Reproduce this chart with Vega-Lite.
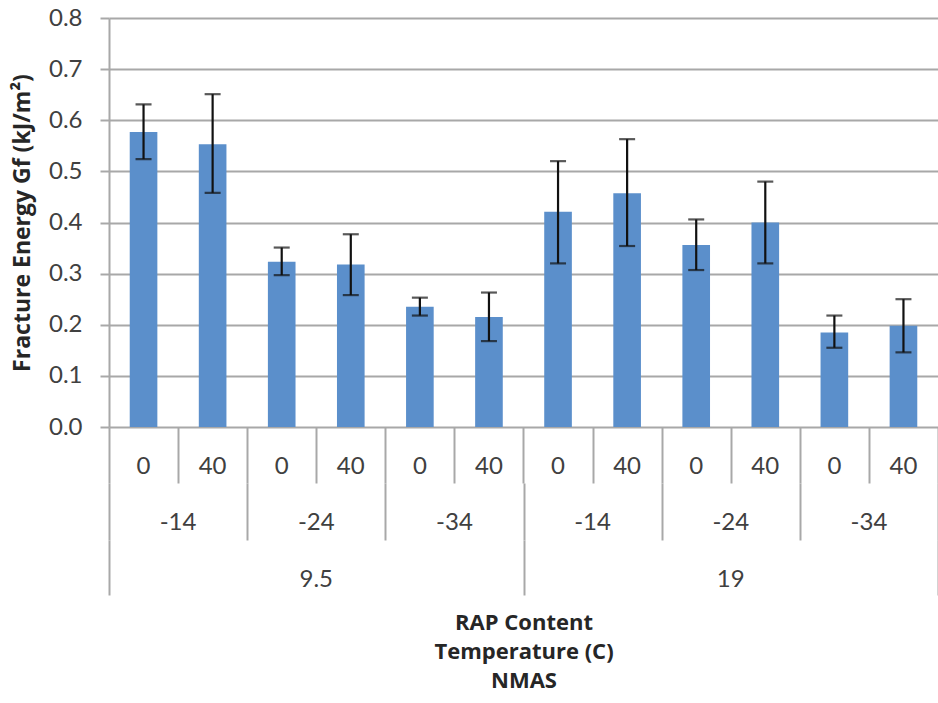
{
  "$schema": "https://vega.github.io/schema/vega-lite/v6.json",
  "background": "white",
  "padding": {"left": 11, "top": 6, "right": 0, "bottom": 8},
  "bounds": "flush",
  "spacing": 0,
  "config": {
    "view": {"stroke": null},
    "font": "Lato",
    "concat": {"spacing": 0}
  },
  "datasets": {
    "bars": [
      {"id": "9.5|-14|0", "nmas": "9.5", "temp": "-14", "rap": "0", "value": 0.577, "lo": 0.524, "hi": 0.631},
      {"id": "9.5|-14|40", "nmas": "9.5", "temp": "-14", "rap": "40", "value": 0.553, "lo": 0.458, "hi": 0.651},
      {"id": "9.5|-24|0", "nmas": "9.5", "temp": "-24", "rap": "0", "value": 0.323, "lo": 0.297, "hi": 0.351},
      {"id": "9.5|-24|40", "nmas": "9.5", "temp": "-24", "rap": "40", "value": 0.318, "lo": 0.258, "hi": 0.377},
      {"id": "9.5|-34|0", "nmas": "9.5", "temp": "-34", "rap": "0", "value": 0.235, "lo": 0.218, "hi": 0.253},
      {"id": "9.5|-34|40", "nmas": "9.5", "temp": "-34", "rap": "40", "value": 0.215, "lo": 0.168, "hi": 0.263},
      {"id": "19|-14|0", "nmas": "19", "temp": "-14", "rap": "0", "value": 0.421, "lo": 0.32, "hi": 0.52},
      {"id": "19|-14|40", "nmas": "19", "temp": "-14", "rap": "40", "value": 0.457, "lo": 0.354, "hi": 0.563},
      {"id": "19|-24|0", "nmas": "19", "temp": "-24", "rap": "0", "value": 0.356, "lo": 0.307, "hi": 0.406},
      {"id": "19|-24|40", "nmas": "19", "temp": "-24", "rap": "40", "value": 0.4, "lo": 0.32, "hi": 0.48},
      {"id": "19|-34|0", "nmas": "19", "temp": "-34", "rap": "0", "value": 0.185, "lo": 0.155, "hi": 0.218},
      {"id": "19|-34|40", "nmas": "19", "temp": "-34", "rap": "40", "value": 0.198, "lo": 0.146, "hi": 0.25}
    ],
    "temps": [
      {"gid": "9.5|-14", "temp": "-14"},
      {"gid": "9.5|-24", "temp": "-24"},
      {"gid": "9.5|-34", "temp": "-34"},
      {"gid": "19|-14", "temp": "-14"},
      {"gid": "19|-24", "temp": "-24"},
      {"gid": "19|-34", "temp": "-34"}
    ],
    "nmas": [
      {"nmas": "9.5"},
      {"nmas": "19"}
    ]
  },
  "vconcat": [
    {
      "width": 829,
      "height": 409,
      "data": {"name": "bars"},
      "encoding": {
        "x": {
          "field": "id", "type": "nominal", "sort": null,
          "scale": {"paddingInner": 0, "paddingOuter": 0},
          "axis": null
        }
      },
      "layer": [
        {
          "mark": {"type": "bar", "color": "#5b8fcb", "width": {"band": 0.4}},
          "encoding": {
            "y": {
              "field": "value", "type": "quantitative",
              "scale": {"domain": [0, 0.8], "nice": false},
              "axis": {
                "values": [0, 0.1, 0.2, 0.3, 0.4, 0.5, 0.6, 0.7, 0.8],
                "format": ".1f",
                "title": "Fracture Energy Gf (kJ/m²)",
                "titleFont": "Open Sans",
                "titleFontSize": 23,
                "titleFontWeight": "bold",
                "titleColor": "#262626",
                "titlePadding": 14,
                "labelFontSize": 24,
                "labelColor": "#404040",
                "labelPadding": 18,
                "tickSize": 9,
                "tickColor": "#a8a8a8",
                "tickWidth": 2,
                "domainColor": "#a8a8a8",
                "domainWidth": 2,
                "grid": true,
                "gridColor": "#a8a8a8",
                "gridWidth": 2
              }
            }
          }
        },
        {
          "mark": {"type": "rule", "color": "#111111", "strokeWidth": 2.2},
          "encoding": {
            "y": {"field": "lo", "type": "quantitative"},
            "y2": {"field": "hi"}
          }
        },
        {
          "mark": {"type": "tick", "color": "#111111", "thickness": 2.2, "size": 16, "orient": "horizontal"},
          "encoding": {"y": {"field": "hi", "type": "quantitative"}}
        },
        {
          "mark": {"type": "tick", "color": "#111111", "thickness": 2.2, "size": 16, "orient": "horizontal"},
          "encoding": {"y": {"field": "lo", "type": "quantitative"}}
        }
      ]
    },
    {
      "width": 829,
      "height": 56,
      "data": {"name": "bars"},
      "mark": {"type": "text", "fontSize": 24, "color": "#404040", "dy": 12},
      "encoding": {
        "x": {
          "field": "id", "type": "nominal", "sort": null,
          "scale": {"paddingInner": 0, "paddingOuter": 0},
          "axis": {"labels": false, "ticks": false, "domain": false, "grid": true, "gridColor": "#a8a8a8", "gridWidth": 2, "tickBand": "extent", "title": null}
        },
        "text": {"field": "rap"}
      }
    },
    {
      "width": 829,
      "height": 57,
      "data": {"name": "temps"},
      "mark": {"type": "text", "fontSize": 24, "color": "#404040", "dy": 11},
      "encoding": {
        "x": {
          "field": "gid", "type": "nominal", "sort": null,
          "scale": {"paddingInner": 0, "paddingOuter": 0},
          "axis": {"labels": false, "ticks": false, "domain": false, "grid": true, "gridColor": "#a8a8a8", "gridWidth": 2, "tickBand": "extent", "title": null}
        },
        "text": {"field": "temp"}
      }
    },
    {
      "width": 829,
      "height": 55,
      "data": {"name": "nmas"},
      "mark": {"type": "text", "fontSize": 24, "color": "#404040", "dy": 12},
      "encoding": {
        "x": {
          "field": "nmas", "type": "nominal", "sort": null,
          "scale": {"paddingInner": 0, "paddingOuter": 0},
          "axis": {
            "labels": false, "ticks": false, "domain": false, "grid": true,
            "gridColor": "#a8a8a8", "gridWidth": 2, "tickBand": "extent",
            "title": ["RAP Content", "Temperature (C)", "NMAS"],
            "titleFont": "Open Sans",
            "titleFontSize": 22, "titleFontWeight": "bold", "titleColor": "#262626",
            "titleLineHeight": 29, "titlePadding": 17
          }
        },
        "text": {"field": "nmas"}
      }
    }
  ]
}
